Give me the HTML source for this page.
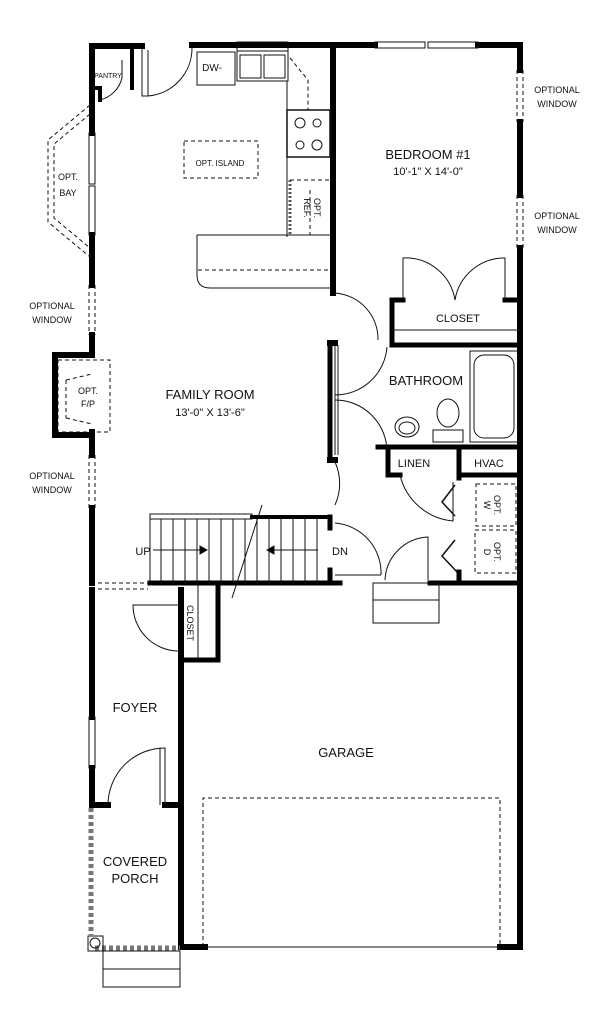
<!DOCTYPE html>
<html><head><meta charset="utf-8"><style>
html,body{margin:0;padding:0;background:#fff;}
svg{display:block;}
text{font-family:"Liberation Sans Narrow","Liberation Sans",sans-serif;fill:#111;text-anchor:middle;}
</style></head><body>
<svg width="612" height="1024" viewBox="0 0 612 1024" xmlns="http://www.w3.org/2000/svg">
<g fill="none" stroke="#111" stroke-width="1">
<g stroke="#000" stroke-width="6" stroke-linecap="square">
<path d="M92 46 H142"/>
<path d="M192 45 H375 M478 45 H520"/>
<path d="M520 45 V70 M520 122 V195 M520 248 V947"/>
<path d="M92 46 V133 M92 235 V285 M92 335 V355 M92 432 V455 M92 508 V583"/>
<path d="M55 355 H92 M55 355 V435 H92"/>
<path d="M92 590 V717 M92 768 V805 H108 M165 805 H181"/>
<path d="M181 590 V947 H205 M500 947 H520"/>
<path d="M333 45 V293"/>
<path d="M132 46 V88 M92 88 H100 M100 88 V100" stroke-width="4"/>
<path d="M392 300 V345 M392 300 H403 M505 300 H520" stroke-width="5"/>
<path d="M392 345 H520" stroke-width="5"/>
<path d="M330 343 V460" stroke-width="5"/>
<path d="M330 343 H335 M330 460 H335"/>
<path d="M378 447 H520" stroke-width="5"/>
<path d="M388 447 V475 H400" stroke-width="5"/>
<path d="M459 447 V478" stroke-width="5"/>
<path d="M459 475 H520" stroke-width="5"/>
<path d="M459 572 V583" stroke-width="5"/>
<path d="M150 583 H340 M430 583 H520" stroke-width="5"/>
<path d="M330 517 V528 M330 570 V583" stroke-width="5"/>
<path d="M252 517 H330" stroke-width="4"/>
<path d="M218 583 V660 H181" stroke-width="5"/>
</g>
<path d="M198 585 V658"/>
<path d="M100 100 A30 30 0 0 0 122 78 M122 78 V60"/>
<path d="M142 46 V96 H148 A48 48 0 0 0 192 48"/>
<path d="M148 50 V96"/>
<g stroke-width="1">
<rect x="89" y="133" width="6" height="51"/><rect x="89" y="186" width="6" height="49"/>
<rect x="375" y="42" width="50" height="6"/><rect x="428" y="42" width="50" height="6"/>
<rect x="89" y="717" width="6" height="51"/>
</g>
<g stroke-dasharray="4 3">
<path d="M89 285 V335 M95 285 V335"/>
<path d="M89 455 V508 M95 455 V508"/>
<path d="M517 70 V122 M523 70 V122"/>
<path d="M517 195 V248 M523 195 V248"/>
<path d="M90 105 L48 140 V222 L90 257"/>
<path d="M90 114 L54 144 V218 L90 248"/>
<path d="M58 360 H110 V432 H58 Z"/>
<path d="M66 380 L92 374 M66 418 L92 424 M66 380 V418"/>
<rect x="184" y="141" width="74" height="37"/>
<path d="M290 180 H330 M310 190 V235 M290 58 L308 80 V110"/>
<path d="M198 270 H330"/>
<path d="M98 583 H148 M98 589 H148"/>
<path d="M203 947 V798 H500 V947"/>
<rect x="476" y="484" width="40" height="42"/>
<rect x="475" y="530" width="41" height="43"/>
</g>
<rect x="197" y="52" width="38" height="33"/>
<rect x="237" y="42" width="51" height="9"/>
<rect x="237" y="51" width="51" height="30"/>
<rect x="240" y="55" width="21" height="23"/><rect x="264" y="55" width="21" height="23"/>
<path d="M287 81 V237 M287 110 H330 M287 157 H330"/>
<rect x="287" y="110" width="43" height="47" stroke-width="1.5"/>
<circle cx="300" cy="123" r="5"/><circle cx="317" cy="123" r="4"/>
<circle cx="300" cy="145" r="4"/><circle cx="317" cy="145" r="5"/>
<path d="M290 180 V235" stroke-dasharray="2 2" stroke-width="3" stroke="#555"/>
<path d="M197 235 H330 M197 235 V275 Q197 288 210 288 H330"/>
<path d="M333 293 A46 46 0 0 1 378 340"/>
<path d="M403 300 V258 A50 50 0 0 1 455 300 A50 50 0 0 1 505 258 V300"/>
<path d="M392 330 H520"/>
<path d="M335 345 V455 M338 345 V455"/>
<path d="M335 395 A52 52 0 0 0 387 347"/>
<path d="M335 400 A52 52 0 0 1 387 452"/>
<rect x="470" y="351" width="48" height="91"/>
<rect x="474" y="355" width="40" height="83" rx="10"/>
<ellipse cx="448" cy="413" rx="11" ry="14"/>
<rect x="433" y="430" width="30" height="12"/>
<ellipse cx="407" cy="427" rx="12" ry="10"/>
<ellipse cx="407" cy="428" rx="8" ry="6"/>
<path d="M335 462 A52 52 0 0 1 335 505"/>
<path d="M400 475 A60 60 0 0 0 453 521 V482"/>
<path d="M455 485 L442 502 L455 516 M455 540 L442 556 L457 572" stroke-width="1.5"/>
<path d="M335 523 A50 50 0 0 1 381 575 M335 575 H381"/>
<path d="M385 580 A45 45 0 0 1 428 537 V580"/>
<rect x="373" y="583" width="66" height="40"/>
<path d="M373 600 H439"/>
<rect x="150" y="514" width="102" height="5"/>
<path d="M150 519 V583"/>
<path d="M161 519 V583 M173 519 V583 M185 519 V583 M197 519 V583 M209 519 V583 M221 519 V583 M233 519 V583 M245 519 V583 M257 519 V583 M269 519 V583 M281 519 V583 M293 519 V583 M305 519 V583 M317 519 V583"/>
<path d="M262 505 L232 598"/>
<path d="M153 550 H202 M318 550 H272"/>
<path d="M200 546 L207 550 L200 554 Z M274 546 L267 550 L274 554 Z" fill="#000"/>
<path d="M178 605 H133 A46 46 0 0 0 178 651"/>
<path d="M108 805 A57 57 0 0 1 165 748 V805 M160 748 V805"/>
<path d="M91 808 V935 M95 948 H180" stroke="#777" stroke-width="5" stroke-dasharray="4 3"/>
<rect x="88" y="936" width="15" height="15"/>
<circle cx="95" cy="943" r="5"/>
<rect x="103" y="951" width="77" height="36"/>
<path d="M103 969 H180"/>
<path d="M205 947 H500"/>
</g>
<g>
<text x="212" y="71" font-size="10">DW-</text>
<text x="108" y="78" font-size="7">PANTRY</text>
<text x="220" y="166" font-size="8">OPT. ISLAND</text>
<text x="68" y="180" font-size="9">OPT.</text><text x="68" y="196" font-size="9">BAY</text>
<text x="52" y="309" font-size="9">OPTIONAL</text><text x="52" y="323" font-size="9">WINDOW</text>
<text x="52" y="479" font-size="9">OPTIONAL</text><text x="52" y="493" font-size="9">WINDOW</text>
<text x="557" y="93" font-size="9">OPTIONAL</text><text x="557" y="107" font-size="9">WINDOW</text>
<text x="557" y="219" font-size="9">OPTIONAL</text><text x="557" y="233" font-size="9">WINDOW</text>
<text x="88" y="394" font-size="9">OPT.</text><text x="88" y="407" font-size="9">F/P</text>
<text x="210" y="399" font-size="13">FAMILY ROOM</text>
<text x="210" y="416" font-size="11">13'-0" X 13'-6"</text>
<text x="428" y="159" font-size="13">BEDROOM #1</text>
<text x="428" y="175" font-size="11">10'-1" X 14'-0"</text>
<text x="458" y="322" font-size="11">CLOSET</text>
<text x="426" y="385" font-size="13">BATHROOM</text>
<text x="414" y="467" font-size="11">LINEN</text>
<text x="489" y="467" font-size="11">HVAC</text>
<text x="143" y="555" font-size="11">UP</text>
<text x="340" y="555" font-size="11">DN</text>
<text x="135" y="712" font-size="13">FOYER</text>
<text x="346" y="757" font-size="13">GARAGE</text>
<text x="135" y="866" font-size="13">COVERED</text>
<text x="135" y="883" font-size="13">PORCH</text>
<text transform="translate(187 623) rotate(90)" font-size="9">CLOSET</text>
<text transform="translate(314 208) rotate(90)" font-size="9">OPT.</text>
<text transform="translate(304 208) rotate(90)" font-size="9">REF.</text>
<text transform="translate(494 505) rotate(90)" font-size="9">OPT.</text>
<text transform="translate(484 505) rotate(90)" font-size="9">W</text>
<text transform="translate(494 552) rotate(90)" font-size="9">OPT.</text>
<text transform="translate(484 552) rotate(90)" font-size="9">D</text>
</g>
</svg>
</body></html>
